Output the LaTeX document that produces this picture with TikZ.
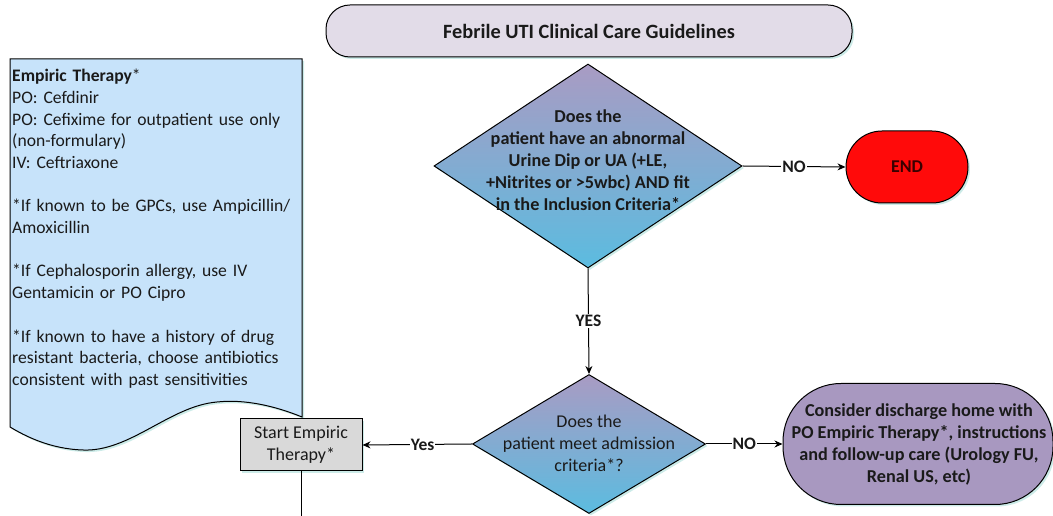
\documentclass[tikz,border=0pt]{standalone}
\usepackage{fontspec}
\setmainfont{Carlito}
\usetikzlibrary{shapes.geometric,arrows.meta,shadows}

\definecolor{titlefill}{HTML}{E2DCE8}
\definecolor{docfill}{HTML}{C7E3FA}
\definecolor{boxfill}{HTML}{D9D9D9}
\definecolor{endfill}{HTML}{FF0A0A}
\definecolor{endtext}{HTML}{3A0000}
\definecolor{dischfill}{HTML}{A898C0}
\definecolor{dtop}{HTML}{A99BC3}
\definecolor{dbottom}{HTML}{5BBCE0}
\definecolor{shade}{HTML}{BFE6E2}
\definecolor{ink}{HTML}{1A1A1A}

\tikzset{
  x=1pt, y=1pt,
  every node/.style={text=ink},
  softshadow/.style={drop shadow={shadow xshift=2pt,shadow yshift=-2pt,fill=shade,opacity=0.8}},
  outline/.style={draw=black, line width=1pt},
  txt/.style={font=\fontsize{18}{22}\selectfont, align=center},
  decision/.style={shape=diamond, outline, softshadow, inner sep=0pt,
    top color=dtop, bottom color=dbottom},
  stadium/.style={shape=rectangle, outline, softshadow, inner sep=0pt},
  procbox/.style={shape=rectangle, outline, softshadow, fill=boxfill, inner sep=0pt,
    minimum width=122pt, minimum height=52pt, txt},
  flow/.style={line width=1pt, -{Stealth[length=8pt,width=7pt]}},
  plain/.style={line width=1pt},
  lbl/.style={fill=white, inner sep=1pt, font=\fontsize{17.5}{18}\selectfont\bfseries},
}

\begin{document}
\begin{tikzpicture}
\useasboundingbox (0,0) rectangle (1053,516);

% title banner
\node[stadium, fill=titlefill, rounded corners=24pt, minimum width=526pt, minimum height=52pt,
      font=\fontsize{20.3}{24}\selectfont\bfseries] (title) at (589,485) {Febrile UTI Clinical Care Guidelines};

% empiric therapy note (document shape with wavy lower edge)
\path[outline, softshadow, fill=docfill]
  (10,457) -- (302,457) -- (302,99)
  .. controls (275,110) and (245,117) .. (217,114)
  .. controls (170,110) and (130,64) .. (83,66)
  .. controls (50,67) and (25,80) .. (10,89) -- cycle;
\node[anchor=north west, inner sep=0pt, text width=292pt, align=left,
      font=\fontsize{17.6}{21.7}\selectfont] (note) at (12,447)
 {\textbf{Empiric Therapy}*\\
  PO: Cefdinir\\
  PO: Cefixime for outpatient use only\\
  (non-formulary)\\
  IV: Ceftriaxone\\[21.7pt]
  *If known to be GPCs, use Ampicillin/\\
  Amoxicillin\\[21.7pt]
  *If Cephalosporin allergy, use IV\\
  Gentamicin or PO Cipro\\[21.7pt]
  *If known to have a history of drug\\
  resistant bacteria, choose antibiotics\\
  consistent with past sensitivities};

% first decision
\node[decision, minimum width=308pt, minimum height=204pt] (d1) at (588,350) {};
\node[txt, font=\fontsize{18.2}{22}\selectfont\bfseries] (d1t) at (588,356)
 {Does the\\patient have an abnormal\\Urine Dip or UA (+LE,\\+Nitrites or >5wbc) AND fit\\in the Inclusion Criteria*};

% end terminal
\node[stadium, fill=endfill, rounded corners=36pt, minimum width=122pt, minimum height=72pt,
      font=\fontsize{18}{20}\selectfont\bfseries, text=endtext] (end) at (907,349) {END};

% second decision
\node[decision, minimum width=233pt, minimum height=139pt] (d2) at (589,72) {};
\node[txt] (d2t) at (589,73) {Does the\\patient meet admission\\criteria*?};

% start empiric therapy
\node[procbox] (start) at (301,71) {Start Empiric\\Therapy*};

% discharge terminal (the text is wider than the shape, as drawn)
\node[stadium, fill=dischfill, rounded corners=58pt, minimum width=270pt, minimum height=121pt] (disch) at (918,72) {};
\node[txt, font=\fontsize{18.2}{22}\selectfont\bfseries] (discht) at (919,72)
 {Consider discharge home with\\PO Empiric Therapy*, instructions\\and follow-up care (Urology FU,\\Renal US, etc)};

\coordinate (out) at (301,0);

% connectors
\draw[flow] (d1.east) -- node[lbl] {NO} (end.west);
\draw[flow] (d1.south) -- node[lbl] {YES} (d2.north);
\draw[flow] (d2.west) -- node[lbl, pos=0.45] {Yes} (start.east);
\draw[flow] (d2.east) -- node[lbl] {NO} (disch.west);
\draw[plain] (start.south) -- (out);
\end{tikzpicture}
\end{document}
